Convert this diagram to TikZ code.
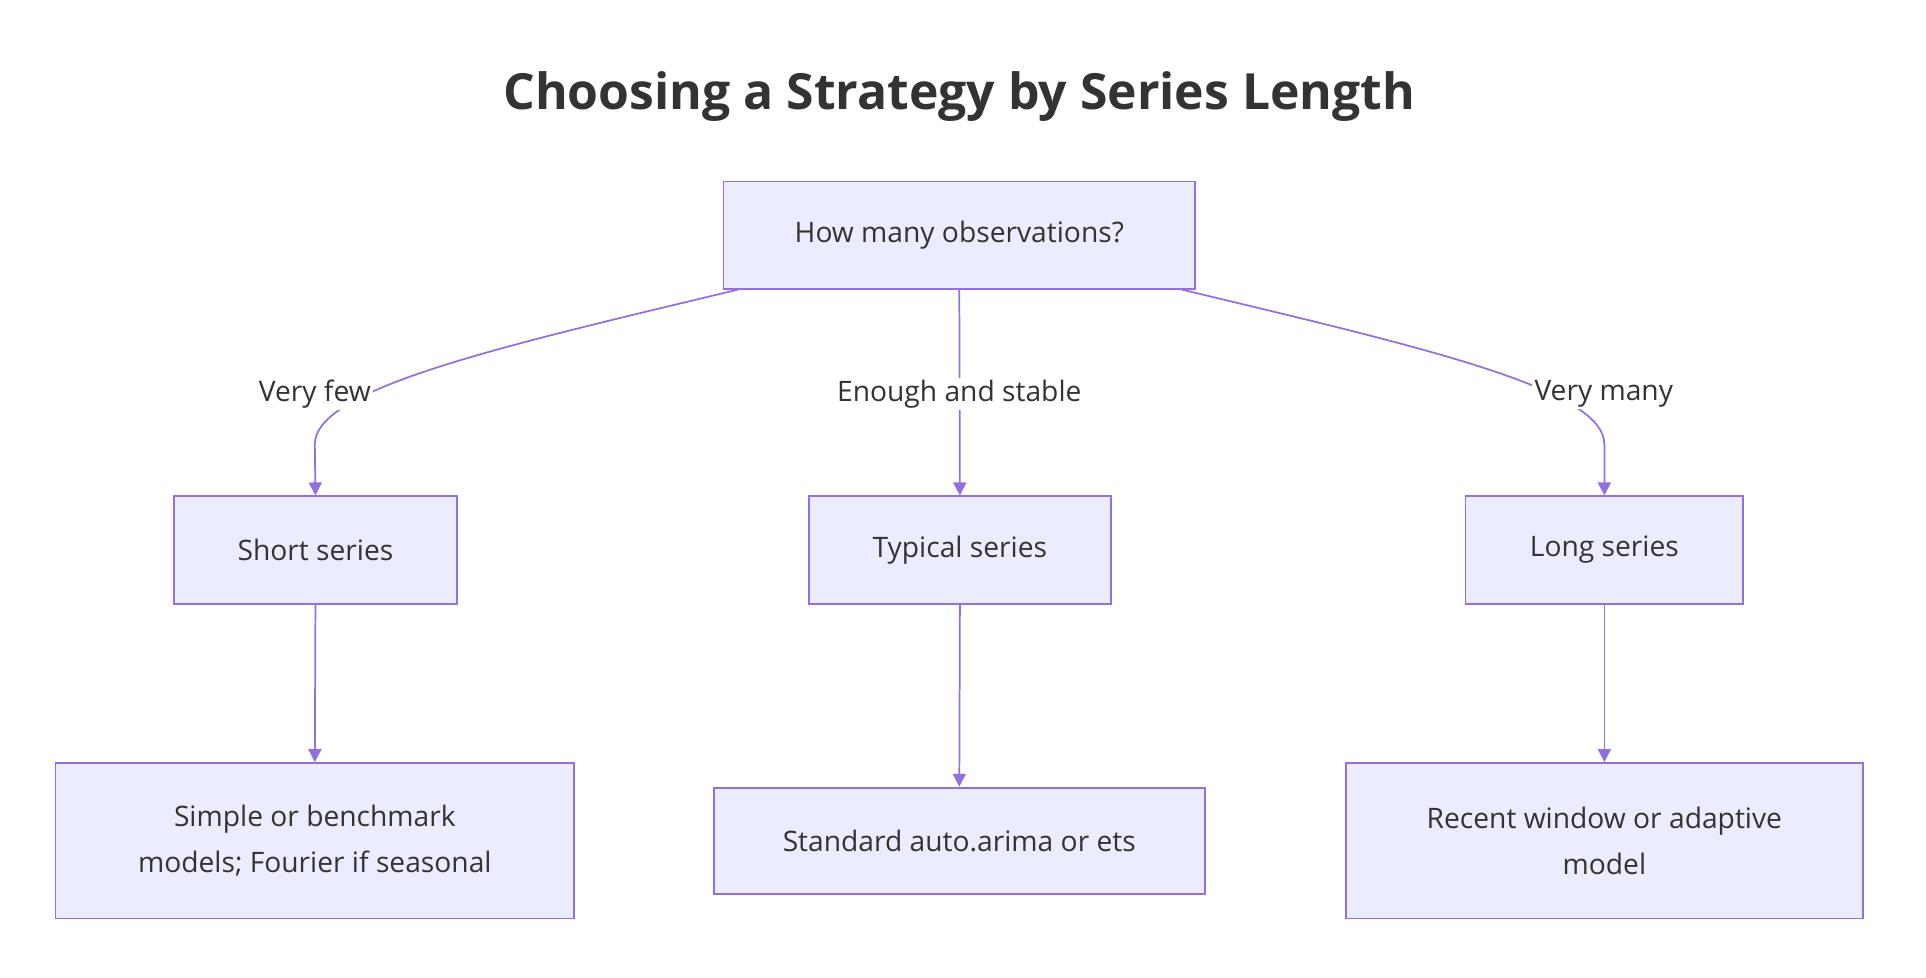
\documentclass[tikz,border=0pt]{standalone}
\usepackage{fontspec}
\setmainfont{Open Sans}
\usetikzlibrary{arrows.meta}
\definecolor{boxfill}{HTML}{ECECFF}
\definecolor{boxline}{HTML}{9370DB}
\definecolor{txt}{HTML}{333333}
\begin{document}
\begin{tikzpicture}[x=0.02cm,y=-0.02cm,
  box/.style={draw=boxline,fill=boxfill,line width=0.8pt,text=txt,font=\fontsize{13}{21}\selectfont,align=center,inner sep=0pt},
  lab/.style={fill=white,text=txt,font=\fontsize{13}{16}\selectfont,inner sep=1pt},
  edge/.style={draw=boxline,line width=0.8pt,-{Triangle[length=6pt,width=6pt]}}]
\useasboundingbox (0,0) rectangle (1560,792);
\node[text=txt,font=\fontsize{23}{26}\selectfont\bfseries] (title) at (777,78) {Choosing a Strategy by Series Length};
\node[box,minimum width=7.64cm,minimum height=1.74cm] (q) at (777,190.5) {How many observations?};
\node[box,minimum width=4.58cm,minimum height=1.74cm] (s) at (255.5,445.5) {Short series};
\node[box,minimum width=4.9cm,minimum height=1.74cm] (t) at (777.5,445.5) {Typical series};
\node[box,minimum width=4.5cm,minimum height=1.74cm] (l) at (1299.5,445.5) {Long series};
\node[box,minimum width=8.4cm,minimum height=2.52cm] (bs) at (255,681) {Simple or benchmark\\models; Fourier if seasonal};
\node[box,minimum width=7.96cm,minimum height=1.72cm] (bt) at (777,681) {Standard auto.arima or ets};
\node[box,minimum width=8.38cm,minimum height=2.52cm] (bl) at (1299.5,681) {Recent window or adaptive\\model};
\coordinate (q1) at (598,234.5);
\coordinate (q3) at (957,234.5);
\draw[edge] (q1) .. controls (400,282) and (255,315) .. (255,360) -- (s.north);
\draw[edge] (q.south) -- (t.north);
\draw[edge] (q3) .. controls (1155,282) and (1299.5,315) .. (1299.5,360) -- (l.north);
\node[lab] (la) at (255,319) {Very few};
\node[lab] (lb) at (777,319) {Enough and stable};
\node[lab] (lc) at (1299,319) {Very many};
\draw[edge] (s.south) -- (bs.north);
\draw[edge] (t.south) -- (bt.north);
\draw[edge] (l.south) -- (bl.north);
\end{tikzpicture}
\end{document}
